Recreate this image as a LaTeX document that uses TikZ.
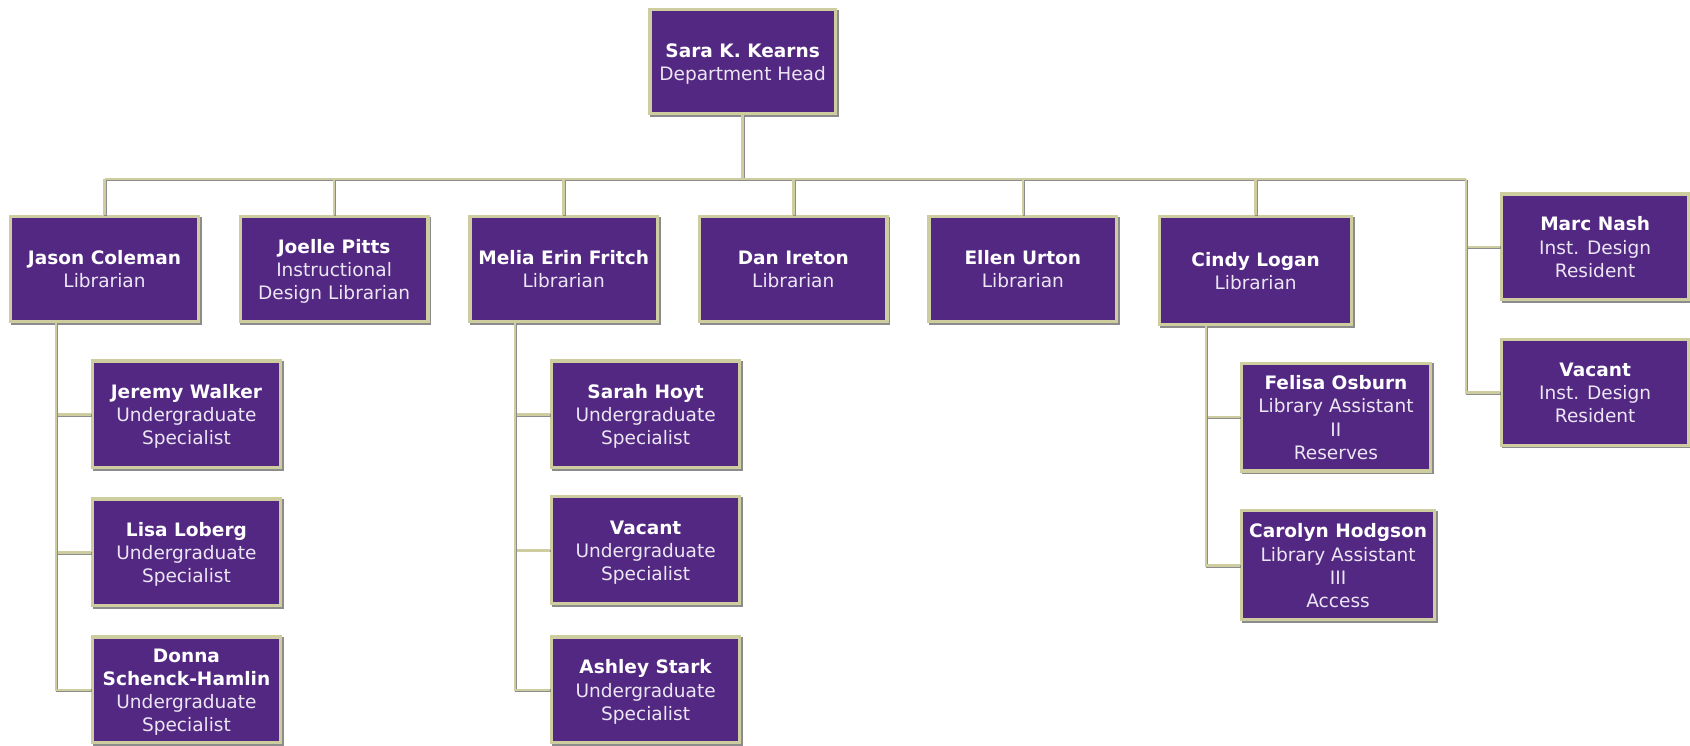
\documentclass[tikz,border=0pt]{standalone}
\usepackage{fontspec}
\setmainfont{DejaVu Sans}
\definecolor{boxpurple}{RGB}{82,40,130}
\definecolor{beige}{RGB}{206,205,160}
\definecolor{shadowgray}{RGB}{140,140,140}
\definecolor{subtext}{RGB}{236,230,244}
\tikzset{
  pbox/.style={fill=boxpurple, draw=beige, line width=3pt, inner sep=2pt,
    minimum width=#1, align=center, text=subtext,
    font=\fontsize{17.2}{21.5}\selectfont,
    preaction={draw=shadowgray, line width=3pt, transform canvas={shift={(1.6,1.6)}}}},
  pbox/.default=174pt,
  conn/.style={draw=beige, line width=2.4pt,
    preaction={draw=shadowgray, line width=2.4pt, transform canvas={shift={(0.9,0.9)}}}}
}
\newcommand{\nm}[1]{{\bfseries\color{white}#1}}
\newcommand{\txt}[1]{\raisebox{-2.5pt}[\height][\depth]{\begin{tabular}{@{}c@{}}#1\end{tabular}}}
\begin{document}
\begin{tikzpicture}[x=1pt,y=-1pt]
\useasboundingbox (0,0) rectangle (1568,692);
% top
\node[pbox=172pt, minimum height=96pt] (sara) at (689,57) {\txt{\nm{Sara K. Kearns}\\Department Head}};
% row 1
\node[pbox, minimum height=97pt] (jason) at (97,249.5) {\txt{\nm{Jason Coleman}\\Librarian}};
\node[pbox, minimum height=97pt] (joelle) at (310,249.5) {\txt{\nm{Joelle Pitts}\\Instructional\\Design Librarian}};
\node[pbox, minimum height=97pt] (melia) at (523,249.5) {\txt{\nm{Melia Erin Fritch}\\Librarian}};
\node[pbox, minimum height=97pt] (dan) at (736,249.5) {\txt{\nm{Dan Ireton}\\Librarian}};
\node[pbox, minimum height=97pt] (ellen) at (949,249.5) {\txt{\nm{Ellen Urton}\\Librarian}};
\node[pbox=178pt, minimum height=100pt] (cindy) at (1165,251) {\txt{\nm{Cindy Logan}\\Librarian}};
% right residents
\node[pbox, minimum height=98pt] (marc) at (1480,229) {\txt{\nm{Marc Nash}\\Inst. Design\\Resident}};
\node[pbox, minimum height=98pt] (vacres) at (1480,364) {\txt{\nm{Vacant}\\Inst. Design\\Resident}};
% Jason's team
\node[pbox, minimum height=99pt] (jeremy) at (173,384.5) {\txt{\nm{Jeremy Walker}\\Undergraduate\\Specialist}};
\node[pbox, minimum height=99pt] (lisa) at (173,512.5) {\txt{\nm{Lisa Loberg}\\Undergraduate\\Specialist}};
\node[pbox, minimum height=98pt] (donna) at (173,640) {\txt{\nm{Donna}\\\nm{Schenck-Hamlin}\\Undergraduate\\Specialist}};
% Melia's team
\node[pbox, minimum height=99pt] (sarah) at (599,384.5) {\txt{\nm{Sarah Hoyt}\\Undergraduate\\Specialist}};
\node[pbox, minimum height=99pt] (vacug) at (599,510.5) {\txt{\nm{Vacant}\\Undergraduate\\Specialist}};
\node[pbox, minimum height=98pt] (ashley) at (599,640) {\txt{\nm{Ashley Stark}\\Undergraduate\\Specialist}};
% Cindy's team
\node[pbox=175pt, minimum height=100pt] (felisa) at (1239.5,387) {\txt{\nm{Felisa Osburn}\\Library Assistant\\II\\Reserves}};
\node[pbox=179pt, minimum height=101pt] (carolyn) at (1241.5,524.5) {\txt{\nm{Carolyn Hodgson}\\Library Assistant\\III\\Access}};
% connectors
\coordinate (busL) at (97,166);
\coordinate (busR) at (1360,166);
\coordinate (trJ) at (52,0);
\coordinate (trM) at (478,0);
\coordinate (trC) at (1119,0);
\draw[conn] (sara.south) -- (sara.south |- busL);
\draw[conn] (busL) -- (busR);
\foreach \n in {jason,joelle,melia,dan,ellen,cindy}
  \draw[conn] (\n.north) -- (\n.north |- busL);
\draw[conn] (busR) |- (marc.west);
\draw[conn] (busR) |- (vacres.west);
\foreach \n in {jeremy,lisa,donna}
  \draw[conn] (jason.south -| trJ) |- (\n.west);
\foreach \n in {sarah,vacug,ashley}
  \draw[conn] (melia.south -| trM) |- (\n.west);
\foreach \n in {felisa,carolyn}
  \draw[conn] (cindy.south -| trC) |- (\n.west);
\end{tikzpicture}
\end{document}
